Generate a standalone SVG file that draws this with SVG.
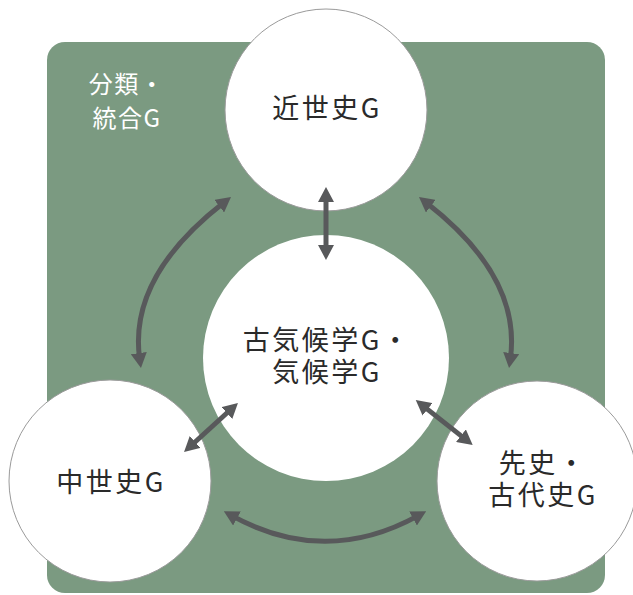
<svg xmlns="http://www.w3.org/2000/svg" width="633" height="595" viewBox="0 0 633 595">
  <defs>
    <style>
      .bg { fill: #7b9a81; }
      .node { fill: #ffffff; stroke: #9a9a9a; stroke-width: 1; }
      .node-c { fill: #ffffff; }
      .t { font-family: "Noto Sans CJK JP", "Noto Sans", sans-serif; font-size: 27px; fill: #2a2a2a; text-anchor: middle; letter-spacing: 2.5px; }
      .lbl { font-family: "Noto Sans CJK JP", "Noto Sans", sans-serif; font-size: 24px; fill: #ffffff; text-anchor: middle; letter-spacing: 1.5px; }
      .arr { fill: none; stroke: #58595b; stroke-width: 5; marker-start: url(#head); marker-end: url(#head); }
    </style>
    <marker id="head" viewBox="0 0 15 16" markerUnits="userSpaceOnUse" markerWidth="15" markerHeight="16" refX="6" refY="8" orient="auto-start-reverse">
      <path d="M0,0 L15,8 L0,16 z" fill="#58595b"/>
    </marker>
  </defs>

  <rect class="bg" x="47" y="42" width="558" height="551" rx="18" ry="18"/>

  <g id="label-bunrui">
    <text class="lbl" x="127" y="93">分類・</text>
    <text class="lbl" x="127" y="127">統合G</text>
  </g>

  <g id="node-kinseishi">
    <circle class="node" cx="326" cy="110" r="101"/>
    <text class="t" x="327" y="118">近世史G</text>
  </g>

  <g id="node-kikogaku">
    <circle class="node-c" cx="326" cy="358" r="123"/>
    <text class="t" x="327" y="350">古気候学G・</text>
    <text class="t" x="327" y="382">気候学G</text>
  </g>

  <g id="node-chuseishi">
    <circle class="node" cx="110" cy="481" r="101"/>
    <text class="t" x="111" y="492">中世史G</text>
  </g>

  <g id="node-senshi">
    <circle class="node" cx="537" cy="481" r="100"/>
    <text class="t" x="543" y="473">先史・</text>
    <text class="t" x="543" y="505">古代史G</text>
  </g>

  <g id="connectors">
    <path class="arr" d="M326,196 L326,251"/>
    <path class="arr" d="M223.9,202.5 Q128,277 139.7,359.1"/>
    <path class="arr" d="M426.1,202.5 Q522,277 510.3,359.1"/>
    <path class="arr" d="M231.7,515.6 Q325,567 418.3,515.6"/>
    <path class="arr" d="M231.3,409 L190.7,446"/>
    <path class="arr" d="M422.8,405.6 L465.6,439.4"/>
  </g>
</svg>
